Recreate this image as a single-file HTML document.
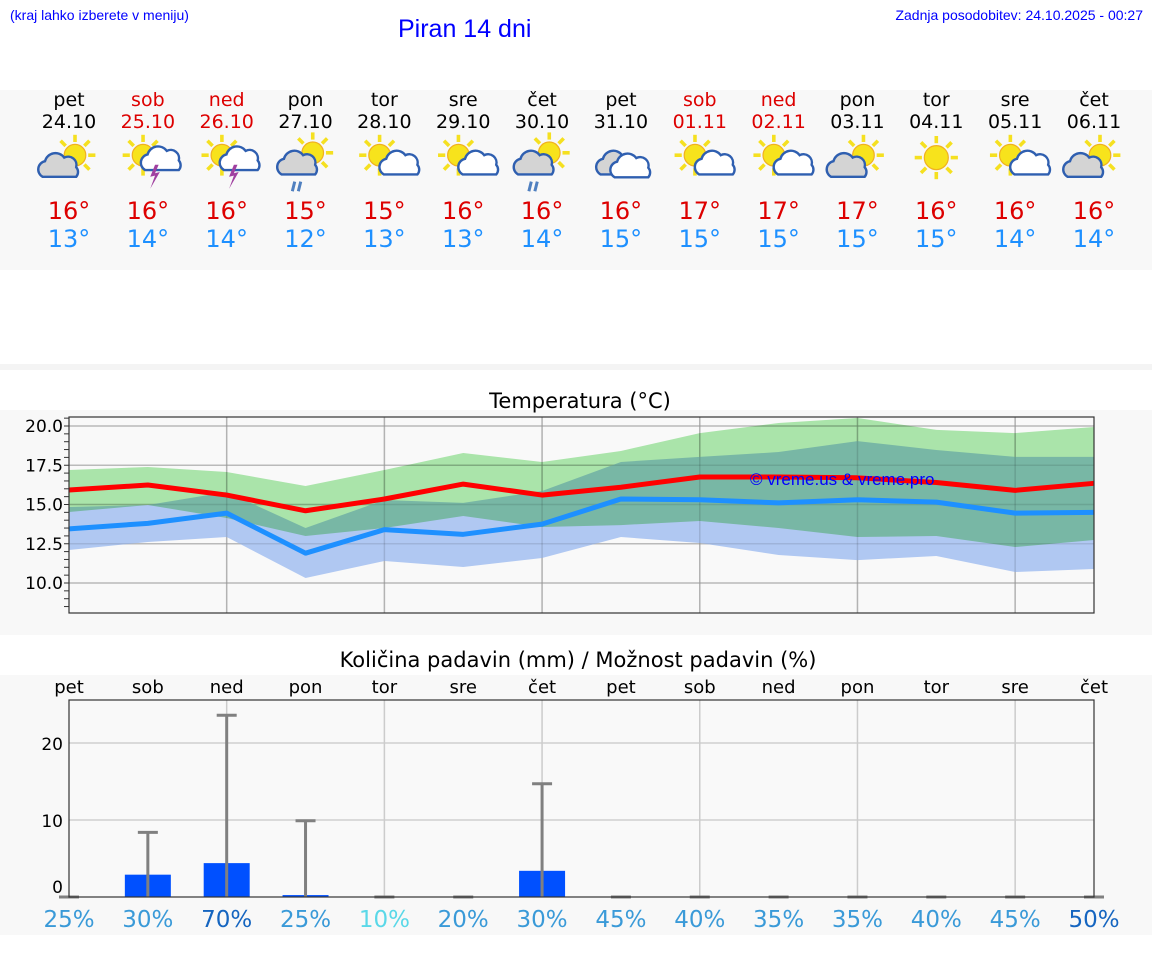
<!DOCTYPE html>
<html><head><meta charset="utf-8">
<style>
body{margin:0;width:1152px;height:975px;background:#fff;font-family:"Liberation Sans","DejaVu Sans",sans-serif;overflow:hidden;position:relative}
.a{position:absolute}
.dv{font-family:"DejaVu Sans","Liberation Sans",sans-serif}
</style></head>
<body>
<div class="a" style="left:10px;top:7px;font-size:14px;color:#00f">(kraj lahko izberete v meniju)</div>
<div class="a" style="left:398px;top:15px;font-size:25px;color:#00f">Piran 14 dni</div>
<div class="a" style="right:9px;top:7px;font-size:14px;color:#00f">Zadnja posodobitev: 24.10.2025 - 00:27</div>
<div class="a" style="left:0;top:90px;width:1152px;height:180px;background:#f8f8f8"></div>
<div class="a" style="left:0;top:364px;width:1152px;height:6px;background:#f4f4f4"></div>
<div class="a" style="left:0;top:410px;width:1152px;height:225px;background:#f8f8f8"></div>
<div class="a" style="left:0;top:675px;width:1152px;height:260px;background:#f8f8f8"></div>
<div id="days"></div>
<svg class="a" style="left:0;top:0" width="1152" height="975" id="ch" font-family="DejaVu Sans, Liberation Sans, sans-serif"></svg>
<script>
const dayNames=["pet","sob","ned","pon","tor","sre","čet","pet","sob","ned","pon","tor","sre","čet"];
const dates=["24.10","25.10","26.10","27.10","28.10","29.10","30.10","31.10","01.11","02.11","03.11","04.11","05.11","06.11"];
const weekend=[0,1,1,0,0,0,0,0,1,1,0,0,0,0];
const icons=["pc","ts","ts","rain","sc","sc","rain","cl","sc","sc","pc","sun","sc","pc"];
const hiT=[16,16,16,15,15,16,16,16,17,17,17,16,16,16];
const loT=[13,14,14,12,13,13,14,15,15,15,15,15,14,14];
const tMax=[15.92,16.24,15.6,14.6,15.35,16.3,15.6,16.1,16.75,16.75,16.7,16.4,15.9,16.35];
const tMin=[13.45,13.8,14.45,11.9,13.4,13.1,13.75,15.35,15.3,15.1,15.3,15.15,14.45,14.5];
const maxHi=[17.2,17.39,17.07,16.18,17.2,18.28,17.71,18.41,19.55,20.19,20.51,19.75,19.55,19.94];
const maxLo=[14.52,14.97,14.14,12.99,13.5,14.27,13.57,13.69,13.95,13.5,12.93,12.99,12.29,12.74];
const minHi=[14.84,14.97,15.8,13.5,15.29,15.1,15.86,17.71,18.03,18.34,19.04,18.47,18.03,18.03];
const minLo=[12.1,12.61,12.93,10.32,11.4,11.02,11.59,12.93,12.55,11.78,11.46,11.72,10.7,10.89];
const tTicks=[10,12.5,15,17.5,20];
const precip=[0,2.9,4.4,0.25,0,0,3.4,0,0,0,0,0,0,0];
const precipMax=[0,8.4,23.6,9.9,0,0,14.7,0,0,0,0,0,0,0];
const chance=[25,30,70,25,10,20,30,45,40,35,35,40,45,50];
const pTicks=[0,10,20];

const NS="http://www.w3.org/2000/svg";
const svg=document.getElementById('ch');
function el(t,a,p){const e=document.createElementNS(NS,t);for(const k in a)e.setAttribute(k,a[k]);(p||svg).appendChild(e);return e;}
const X=i=>69+i*(1025/13);
const TY=v=>583-(v-10)*15.7;
const PY=v=>897-v*7.7;

const days=document.getElementById('days');
dayNames.forEach((d,i)=>{
  const c=X(i);const col=weekend[i]?'#d00':'#000';
  const w=document.createElement('div');w.className='a dv';
  w.style.cssText=`left:${c-40}px;top:89px;width:80px;text-align:center;font-size:19px;line-height:22px;color:${col}`;
  w.innerHTML=d+'<br>'+dates[i];
  
  
  days.appendChild(w);
  const t=document.createElement('div');t.className='a dv';
  t.style.cssText=`left:${c-40}px;top:197px;width:80px;text-align:center;font-size:24px;line-height:28px`;
  t.innerHTML=`<span style="color:#d00">${hiT[i]}°</span><br><span style="color:#1e90ff">${loT[i]}°</span>`;
  
  
  days.appendChild(t);
  const g=el('g',{transform:`translate(${c},160) scale(1.2)`});
  
  
  const sun=(x,y,r)=>{for(let k=0;k<8;k++){const a=k*Math.PI/4;el('line',{x1:x+Math.cos(a)*(r+2),y1:y+Math.sin(a)*(r+2),x2:x+Math.cos(a)*(r+8),y2:y+Math.sin(a)*(r+8),stroke:'#f5e020','stroke-width':3},g);}el('circle',{cx:x,cy:y,r:r,fill:'#f7e31c',stroke:'#f0b020','stroke-width':1},g);};
  const cloud=(x,y,s,f)=>{el('path',{d:`M${x-14*s},${y+8*s} a7,7 0 0 1 2,-13 a9,9 0 0 1 16,-3 a7,7 0 0 1 10,8 a6,6 0 0 1 0,8 z`,fill:f,stroke:'#2f5fb0','stroke-width':2},g);};
  const k=icons[i];
  if(k==='pc'){sun(5,-4,9);cloud(-8,6,1,'#d4d4d4');}
  else if(k==='ts'){sun(-4,-4,9);cloud(9,2,0.8,'#fff');el('path',{d:'M6,4 L2,14 L6,13 L2,24 L10,10 L6,11 L9,4z',fill:'#a040a0'},g);}
  else if(k==='rain'){sun(6,-6,9);cloud(-6,4,1,'#d4d4d4');el('path',{d:'M-9,18 l-2,8 M-4,18 l-2,8',stroke:'#5080c0','stroke-width':2.5},g);}
  else if(k==='sc'){sun(-4,-4,9);cloud(10,6,0.75,'#fff');}
  else if(k==='cl'){cloud(-3,4,1,'#d4d4d4');cloud(6,8,0.8,'#fff');}
  else if(k==='sun'){sun(0,-2,10);}
});

// temperature chart
el('text',{x:580,y:408,'text-anchor':'middle','font-size':21,fill:'#000'}).textContent='Temperatura (°C)';
el('rect',{x:69,y:417,width:1025,height:196,fill:'#f9f9f9'});
tTicks.forEach(v=>{el('line',{x1:69,x2:1094,y1:TY(v),y2:TY(v),stroke:'#d0d0d0','stroke-width':1.5});
 const t=el('text',{x:63,y:TY(v)+6,'text-anchor':'end','font-size':17,fill:'#000'});t.textContent=v.toFixed(1);});
for(let v=8.5;v<=20.5;v+=0.5){if(TY(v)<613&&TY(v)>417)el('line',{x1:64,x2:69,y1:TY(v),y2:TY(v),stroke:'#333','stroke-width':1});}
for(let i=2;i<14;i+=2)el('line',{x1:X(i),x2:X(i),y1:417,y2:613,stroke:'#ccc','stroke-width':1.5});
const band=(hi,lo,col,name,blend)=>{let d='M'+hi.map((v,i)=>X(i)+','+TY(v)).join(' L')+' L'+lo.map((v,i)=>X(i)+','+TY(v)).reverse().join(' L')+'Z';
 const p=el('path',{d:d,fill:col});if(blend)p.style.mixBlendMode='multiply';};
band(minHi,minLo,'#b0c8f2','min-range-band',false);
band(maxHi,maxLo,'#aeeaae','max-range-band',true);
tTicks.forEach(v=>el('line',{x1:69,x2:1094,y1:TY(v),y2:TY(v),stroke:'rgba(0,0,0,0.1)','stroke-width':1.5}));
for(let i=2;i<14;i+=2)el('line',{x1:X(i),x2:X(i),y1:417,y2:613,stroke:'rgba(0,0,0,0.12)','stroke-width':1.5});
const line=(a,col,name)=>{const p=el('polyline',{points:a.map((v,i)=>X(i)+','+TY(v)).join(' '),fill:'none',stroke:col,'stroke-width':5,'stroke-linejoin':'round'});};
line(tMax,'#ff0000','max-temp-line');
line(tMin,'#1e90ff','min-temp-line');
el('text',{x:750,y:485,'font-size':17,fill:'#0000ff','font-family':'Liberation Sans, sans-serif'}).textContent='© vreme.us & vreme.pro';
el('rect',{x:69,y:417,width:1025,height:196,fill:'none',stroke:'#333','stroke-width':1.2});

// precipitation chart
el('text',{x:578,y:667,'text-anchor':'middle','font-size':21,fill:'#000'}).textContent='Količina padavin (mm) / Možnost padavin (%)';
el('rect',{x:69,y:700,width:1025,height:197,fill:'#f9f9f9'});
pTicks.forEach(v=>{if(v>0)el('line',{x1:69,x2:1094,y1:PY(v),y2:PY(v),stroke:'#d0d0d0','stroke-width':1.5});
 const t=el('text',{x:63,y:PY(v)+(v?7:-4),'text-anchor':'end','font-size':17,fill:'#000'});t.textContent=v;});
for(let i=2;i<14;i+=2)el('line',{x1:X(i),x2:X(i),y1:700,y2:897,stroke:'#ccc','stroke-width':1.5});
dayNames.forEach((d,i)=>{const t=el('text',{x:X(i),y:693,'text-anchor':'middle','font-size':18,fill:'#000'});t.textContent=d;});
const pcol=c=>c>=50?'#1565c0':c<=10?'#5ad8e8':'#3a9ad8';
precip.forEach((v,i)=>{
 if(v>0){const r=el('rect',{x:X(i)-23,y:PY(v),width:46,height:897-PY(v),fill:'#0050ff'});
 
 }
 const m=precipMax[i];
 el('line',{x1:X(i),x2:X(i),y1:PY(m),y2:897,stroke:'#808080','stroke-width':3});
 el('line',{x1:X(i)-10,x2:X(i)+10,y1:PY(m),y2:PY(m),stroke:'#808080','stroke-width':3});
 const t=el('text',{x:X(i),y:927,'text-anchor':'middle','font-size':23,fill:chance[i]>=70?'#1565c0':pcol(chance[i])});
 t.textContent=chance[i]+'%';
 
 
});
el('rect',{x:69,y:700,width:1025,height:197,fill:'none',stroke:'#333','stroke-width':1.2});
</script>
</body></html>
